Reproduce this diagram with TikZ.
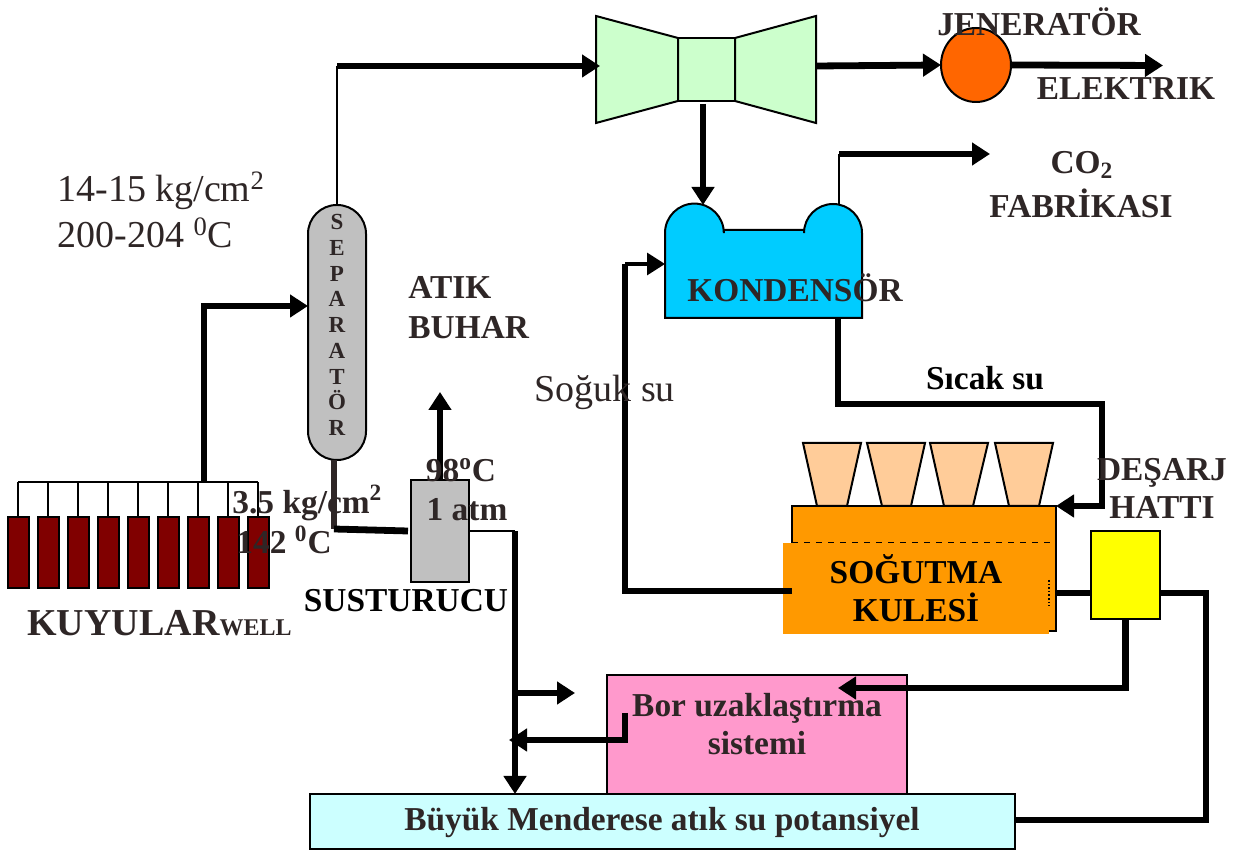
\documentclass[tikz,border=0pt]{standalone}
\usepackage{fontspec}
\setmainfont{Liberation Serif}
\usetikzlibrary{arrows.meta,positioning,shapes.geometric,calc}
\definecolor{koyu}{RGB}{46,38,38}
\definecolor{griton}{RGB}{192,192,192}
\definecolor{kuyurenk}{RGB}{128,0,0}
\definecolor{turbinrenk}{RGB}{204,255,204}
\definecolor{jenrenk}{RGB}{255,102,0}
\definecolor{kondrenk}{RGB}{0,204,255}
\definecolor{fanrenk}{RGB}{255,204,153}
\definecolor{kulerenk}{RGB}{255,153,0}
\definecolor{borrenk}{RGB}{255,153,204}
\definecolor{atikrenk}{RGB}{204,255,255}
\definecolor{sarirenk}{RGB}{255,255,0}
\tikzset{
  kutu/.style={draw=black, line width=1pt, inner sep=0pt, outer sep=0pt},
  kalin/.style={line width=3.4pt},
  ince/.style={line width=1pt},
  orta/.style={line width=1.6pt},
  ok/.style={-{Triangle[length=9pt,width=11pt]}},
  yazi/.style={font=\fontsize{16.7}{19}\selectfont\bfseries, text=koyu, inner sep=0pt, align=center},
  yazisol/.style={yazi, align=left, anchor=west},
  buyuk/.style={font=\fontsize{19}{22}\selectfont, text=koyu, inner sep=0pt, align=left, anchor=west}
}
\begin{document}
\begin{tikzpicture}[x=0.5pt,y=-0.5pt]
\useasboundingbox (0,0) rectangle (1237,854);

% free ends of the lines
\coordinate (baslik) at (18,482);
\coordinate (kolon) at (204,482);
\coordinate (sepgiris) at (308,306);
\coordinate (turgiris) at (600,66);
\coordinate (turcikis) at (816,66);
\coordinate (elektrikuc) at (1163,65.5);
\coordinate (turalt) at (703,104);
\coordinate (kondgiris) at (703,205);
\coordinate (co2alt) at (839,205);
\coordinate (co2uc) at (990,154);
\coordinate (kondsol) at (665,264);
\coordinate (soguk) at (792,591);
\coordinate (dirsek) at (625,591);
\coordinate (kondcikis) at (838,318);
\coordinate (sicak) at (1102,404);
\coordinate (sepcikis) at (334,460);
\coordinate (dip) at (334,529);
\coordinate (susgiris) at (408,531);
\coordinate (buharuc) at (440,392);
\coordinate (inis) at (515,531);
\coordinate (dal) at (515,693);
\coordinate (daluc) at (575,693);
\coordinate (borcikis) at (625,713);
\coordinate (boruc) at (509,740);
\coordinate (boriris) at (838,688);
\coordinate (kulesag) at (1056,593);
\coordinate (sarisol) at (1091,593);
\coordinate (sarisag) at (1160,593);
\coordinate (hat) at (1206,700);

% equipment
\node[kutu, fill=griton, rounded corners=14.4pt, minimum width=29pt, minimum height=127.5pt] (sep) at (337,332.5) {};
\node[kutu, fill=griton, minimum width=29pt, minimum height=51pt] (sus) at (440,531) {};
\node[kutu, fill=turbinrenk, minimum width=28.5pt, minimum height=31.5pt] (turbin) at (706.5,69.5) {};
\draw[ince, fill=turbinrenk] (turbin.north west) -- (596,16) -- (596,123) -- (turbin.south west) -- cycle;
\draw[ince, fill=turbinrenk] (turbin.north east) -- (816,16) -- (816,123) -- (turbin.south east) -- cycle;
\node[kutu, fill=jenrenk, shape=ellipse, minimum width=35pt, minimum height=37pt] (jen) at (976,65) {};
\draw[ince, fill=kondrenk] (665,318) -- (665,233) arc[start angle=180,end angle=0,radius=14.7pt] -- (724,230)
  -- (804,230) -- (804,233) arc[start angle=180,end angle=0,radius=14.5pt] -- (862,318) -- cycle;
\foreach \a/\b/\c/\d in {803/861/817/847,867/925/882/911,930/988/944/973,995/1053/1009/1039} {
  \draw[ince, fill=fanrenk] (\a,443) -- (\b,443) -- (\d,506) -- (\c,506) -- cycle;
}
\node[kutu, fill=kulerenk, minimum width=132pt, minimum height=62.5pt] (kule) at (924,568.5) {};
\node[fill=kulerenk, inner sep=0pt, minimum width=133pt, minimum height=45.5pt, align=center,
  font=\fontsize{16.7}{19}\selectfont\bfseries] (kuleon) at (916,588.5) {SOĞUTMA\\KULESİ};
\draw[line width=0.6pt, dashed] (792,542.5) -- (1050,542.5);
\draw[line width=0.8pt, densely dotted] (1049,580) -- (1049,606);
\node[kutu, fill=sarirenk, minimum width=34.5pt, minimum height=44pt] (sari) at (1125.5,575) {};

% wells
\foreach \i in {1,...,9} {
  \node[kutu, fill=kuyurenk, minimum width=10.5pt, minimum height=35.5pt] (k\i) at ({18+30*(\i-1)},552.5) {};
  \draw[ince] (k\i.north) -- (k\i.north |- baslik);
}
\draw[ince] (k1.north |- baslik) -- (k9.north |- baslik);

% water treatment and discharge
\draw[kalin] (sarisag) -- (sarisag -| hat) -- (hat |- 0,820) -- (1015,820);
\node[kutu, fill=borrenk, minimum width=150pt, minimum height=59.5pt] (bor) at (757,734.5) {};
\node[kutu, fill=atikrenk, minimum width=352.5pt, minimum height=27.5pt] (atik) at (662.5,821.5) {};
\node[yazi] (atikyazi) at (662,823) {Büyük Menderese atık su potansiyel};

% pipes
\draw[kalin, ok] (kolon) |- (sepgiris);
\draw[ince] (sep.north) -- (sep.north |- turgiris);
\draw[kalin, ok] (sep.north |- turgiris) -- (turgiris);
\draw[kalin, ok] (turcikis) -- (jen.west);
\draw[kalin, ok] (jen.east) -- (elektrikuc);
\draw[kalin, ok] (turalt) -- (kondgiris);
\draw[ince] (co2alt) -- (co2alt |- co2uc);
\draw[kalin, ok] (co2alt |- co2uc) -- (co2uc);
\draw[kalin] (soguk) -- (dirsek) -- (dirsek |- kondsol);
\draw[orta, ok] (dirsek |- kondsol) -- (kondsol);
\draw[kalin, ok] (kondcikis) |- (sicak) |- (kule.north east);
\draw[kalin] (kulesag) -- (sarisol);
\draw[kalin, koyu] (sepcikis) -- (dip);
\draw[kalin] (dip) -- (susgiris);
\draw[kalin, ok] (sus.north) -- (buharuc);
\draw[ince] (sus.east) -- (inis);
\draw[kalin, ok] (inis) -- (inis |- atik.north);
\draw[kalin, ok] (dal) -- (daluc);
\draw[kalin, ok] (borcikis) |- (boruc);
\draw[kalin, ok] (sari.south) |- (boriris);

% labels
\node[font=\fontsize{11.5}{12.85}\selectfont\bfseries, text=koyu, inner sep=0pt, align=center] (sepyazi) at (337,325)
  {S\\E\\P\\A\\R\\A\\T\\Ö\\R};
\node[buyuk] (basinc) at (57,191) {14-15 kg/cm\textsuperscript{2}};
\node[buyuk] (sicaklik) at (57,233) {200-204 \textsuperscript{0}C};
\node[yazisol] (atikbuhar) at (408,308) {ATIK\\[1pt]BUHAR};
\node[buyuk] (sogukyazi) at (534,392) {Soğuk su};
\node[yazi, text=black] (sicakyazi) at (985,378) {Sıcak su};
\node[yazi] (jenyazi) at (1039,22) {JENERATÖR};
\node[yazi] (elektrikyazi) at (1126,89) {ELEKTRIK};
\node[yazi] (co2yazi) at (1082,165) {CO\textsubscript{2}};
\node[yazi] (fabrika) at (1081,203) {FABRİKASI};
\node[yazi] (kondyazi) at (795,288) {KONDENSÖR};
\node[yazi] (desarj) at (1162,488) {DEŞARJ\\HATTI};
\node[yazisol] (bar) at (232,503) {3.5 kg/cm\textsuperscript{2}};
\node[yazisol] (derece) at (236,540) {142 \textsuperscript{0}C};
\node[yazi] (susderece) at (461,470) {98\textsuperscript{o}C};
\node[yazi] (atm) at (467,510) {1 atm};
\node[yazi, text=black] (susyazi) at (406,601) {SUSTURUCU};
\node[font=\fontsize{19}{22}\selectfont\bfseries, text=koyu, inner sep=0pt, anchor=base west] (kuyular) at (27,636)
  {KUYULAR{\fontsize{12}{13}\selectfont WELL}};
\node[yazi] (boryazi) at (757,724) {Bor uzaklaştırma\\sistemi};
\end{tikzpicture}
\end{document}
